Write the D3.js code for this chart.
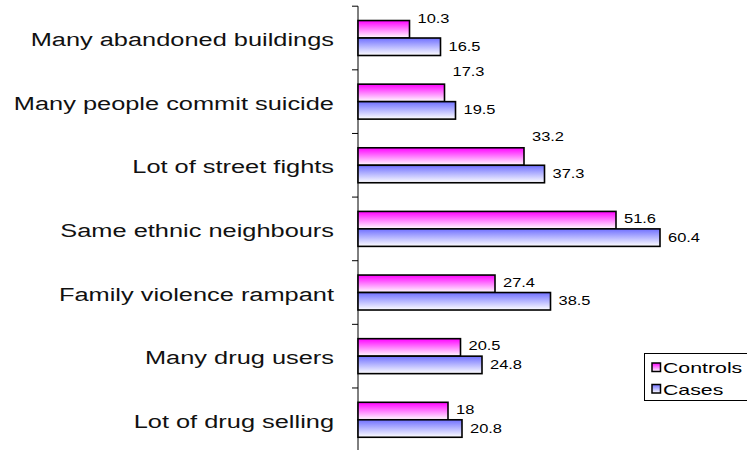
<!DOCTYPE html>
<html>
<head>
<meta charset="utf-8">
<script src="https://cdn.jsdelivr.net/npm/d3@7"></script>
<style>
  html, body { margin: 0; padding: 0; background: #fff; }
  svg { display: block; font-family: "Liberation Sans", Arial, sans-serif; }
</style>
</head>
<body>
<svg id="chart" width="747" height="450"></svg>
<script>
// ---- data ----
const categories = [
  "Many abandoned buildings",
  "Many people commit suicide",
  "Lot of street fights",
  "Same ethnic neighbours",
  "Family violence rampant",
  "Many drug users",
  "Lot of drug selling"
];
const seriesNames = ["Controls", "Cases"];
const controls = [10.3, 17.3, 33.2, 51.6, 27.4, 20.5, 18];
const cases = [16.5, 19.5, 37.3, 60.4, 38.5, 24.8, 20.8];
const valueLabels = {
  Controls: ["10.3", "17.3", "33.2", "51.6", "27.4", "20.5", "18"],
  Cases: ["16.5", "19.5", "37.3", "60.4", "38.5", "24.8", "20.8"]
};

// ---- layout (not data) ----
const controlsLabelNudge = [-10, -20.5, -20, -1.5, -1, -1.5, -1];
const stretch = 1.41; // horizontal stretch of the original text

const svg = d3.select("#chart");

const defs = svg.append("defs");
function grad(id, top) {
  const g = defs.append("linearGradient").attr("id", id)
    .attr("x1", 0).attr("y1", 0).attr("x2", 0).attr("y2", 1);
  g.append("stop").attr("offset", "0%").attr("stop-color", top);
  g.append("stop").attr("offset", "100%").attr("stop-color", "#ffffff");
}
grad("gControls", "#ff00ff");
grad("gCases", "#7070ff");
const fills = { Controls: "url(#gControls)", Cases: "url(#gCases)" };

const rows = categories.map((c, i) => ({ cat: c, Controls: controls[i], Cases: cases[i], i }));

const x = d3.scaleLinear().domain([0, 60.4]).range([358, 660]);
const y = d3.scaleBand().domain(categories).range([6.2, 451.6]).padding(0);
const y1 = d3.scaleBand().domain(seriesNames).range([0, y.bandwidth()])
  .paddingInner(0).paddingOuter(0.82);

// axis
const axisG = svg.append("g").attr("transform", `translate(${x(0)},0)`);
axisG.append("line").attr("x1", 0).attr("x2", 0)
  .attr("y1", y.range()[0]).attr("y2", y.range()[1])
  .attr("stroke", "#000").attr("stroke-width", 1);
const bounds = categories.map(c => y(c)).concat([y.range()[1]]);
axisG.selectAll("line.tick").data(bounds).enter().append("line")
  .attr("class", "tick")
  .attr("x1", -6).attr("x2", 0)
  .attr("y1", d => d).attr("y2", d => d)
  .attr("stroke", "#000").attr("stroke-width", 1);

// category labels
svg.append("g").selectAll("text").data(categories).enter().append("text")
  .attr("transform", d => `translate(334,${y(d) + y.bandwidth() / 2 + 8}) scale(${stretch},1)`)
  .attr("text-anchor", "end")
  .attr("font-size", 18)
  .attr("fill", "#111")
  .text(d => d);

// bars
const groups = svg.append("g").selectAll("g").data(rows).enter().append("g")
  .attr("transform", d => `translate(0,${y(d.cat)})`);

groups.selectAll("rect").data(d => seriesNames.map(s => ({ s, v: d[s], i: d.i })))
  .enter().append("rect")
  .attr("x", x(0))
  .attr("y", d => y1(d.s))
  .attr("width", d => x(d.v) - x(0))
  .attr("height", y1.bandwidth())
  .attr("fill", d => fills[d.s])
  .attr("stroke", "#000")
  .attr("stroke-width", 1.6);

groups.selectAll("text").data(d => seriesNames.map(s => ({ s, v: d[s], i: d.i })))
  .enter().append("text")
  .attr("transform", d => {
    const cy = y1(d.s) + y1.bandwidth() / 2 + 4 + (d.s === "Controls" ? controlsLabelNudge[d.i] : 0);
    return `translate(${x(d.v) + 8},${cy}) scale(1.37,1)`;
  })
  .attr("font-size", 12)
  .attr("fill", "#000")
  .text(d => valueLabels[d.s][d.i]);

// legend
const leg = svg.append("g");
leg.append("rect").attr("x", 644.5).attr("y", 353.5).attr("width", 120).attr("height", 47)
  .attr("fill", "#fff").attr("stroke", "#000").attr("stroke-width", 1);
seriesNames.forEach((s, k) => {
  const yy = 363 + k * 21.5;
  leg.append("rect").attr("x", 652).attr("y", yy).attr("width", 8.5).attr("height", 8.5)
    .attr("fill", fills[s]).attr("stroke", "#000").attr("stroke-width", 1.5);
  leg.append("text")
    .attr("transform", `translate(663,${yy + 10.3}) scale(1.42,1)`)
    .attr("font-size", 15)
    .attr("fill", "#000")
    .text(s);
});
</script>
</body>
</html>
